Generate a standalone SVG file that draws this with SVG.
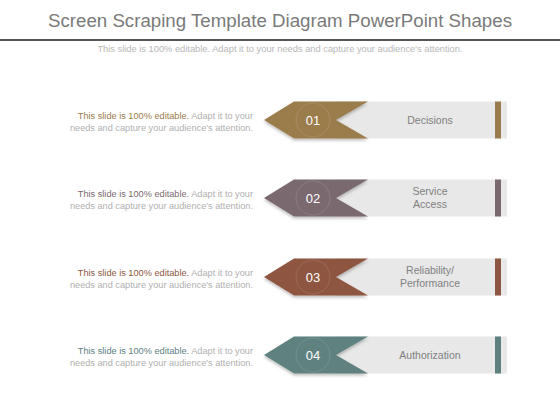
<svg xmlns="http://www.w3.org/2000/svg" width="560" height="420" viewBox="0 0 560 420">
<defs>
<style>
.title{font-family:"Liberation Sans",Arial,sans-serif;font-size:18.7px;fill:#7a7a7a;text-anchor:middle}
.sub{font-family:"Liberation Sans",Arial,sans-serif;font-size:9.3px;fill:#b8b8b8;text-anchor:middle}
.desc{font-family:"Liberation Sans",Arial,sans-serif;font-size:9.2px;fill:#b0b0b0;text-anchor:end}
.lbl{font-family:"Liberation Sans",Arial,sans-serif;font-size:10.5px;fill:#808080;text-anchor:middle}
.num{font-family:"Liberation Sans",Arial,sans-serif;font-size:13px;fill:#ffffff;text-anchor:middle}
.band{fill:#e8e8e8}
.ring{fill:none;stroke:#ffffff;stroke-opacity:0.12;stroke-width:1}
</style>
<filter id="sh" x="-10%" y="-20%" width="120%" height="150%">
<feDropShadow dx="0" dy="2" stdDeviation="1.5" flood-color="#000" flood-opacity="0.25"/>
</filter>
<path id="arrow" d="M264,0 L294,-18.5 L368,-18.5 L336,0 L368,18.5 L294,18.5 Z"/>
</defs>
<rect width="560" height="420" fill="#ffffff"/>
<text class="title" x="280" y="27">Screen Scraping Template Diagram PowerPoint Shapes</text>
<rect x="0" y="39" width="560" height="2" fill="#555555"/>
<text class="sub" x="280" y="52">This slide is 100% editable. Adapt it to your  needs and capture your  audience's attention.</text>

<g id="node1" transform="translate(0,120)">
<rect class="band" x="336" y="-18.5" width="171" height="37"/>
<rect x="495" y="-18.5" width="6" height="37" fill="#9b7b4c"/>
<use href="#arrow" fill="#9b7b4c" filter="url(#sh)"/>
<circle class="ring" cx="313" cy="0" r="17"/>
<text class="num" x="313" y="4.5">01</text>
<text class="lbl" x="430" y="3.5">Decisions</text>
<text class="desc" x="253" y="-1.5"><tspan fill="#9b7b4c">This slide is 100% editable.</tspan> Adapt it to your</text>
<text class="desc" x="253" y="10.5">needs and capture your audience's attention.</text>
</g>

<g id="node2" transform="translate(0,198)">
<rect class="band" x="336" y="-18.5" width="171" height="37"/>
<rect x="495" y="-18.5" width="6" height="37" fill="#7a6a70"/>
<use href="#arrow" fill="#7a6a70" filter="url(#sh)"/>
<circle class="ring" cx="313" cy="0" r="17"/>
<text class="num" x="313" y="4.5">02</text>
<text class="lbl" x="430" y="-3">Service</text>
<text class="lbl" x="430" y="10">Access</text>
<text class="desc" x="253" y="-1.5"><tspan fill="#7a6a70">This slide is 100% editable.</tspan> Adapt it to your</text>
<text class="desc" x="253" y="10.5">needs and capture your audience's attention.</text>
</g>

<g id="node3" transform="translate(0,277)">
<rect class="band" x="336" y="-18.5" width="171" height="37"/>
<rect x="495" y="-18.5" width="6" height="37" fill="#8e5641"/>
<use href="#arrow" fill="#8e5641" filter="url(#sh)"/>
<circle class="ring" cx="313" cy="0" r="17"/>
<text class="num" x="313" y="4.5">03</text>
<text class="lbl" x="430" y="-3">Reliability/</text>
<text class="lbl" x="430" y="10">Performance</text>
<text class="desc" x="253" y="-1.5"><tspan fill="#8e5641">This slide is 100% editable.</tspan> Adapt it to your</text>
<text class="desc" x="253" y="10.5">needs and capture your audience's attention.</text>
</g>

<g id="node4" transform="translate(0,355)">
<rect class="band" x="336" y="-18.5" width="171" height="37"/>
<rect x="495" y="-18.5" width="6" height="37" fill="#5e817f"/>
<use href="#arrow" fill="#5e817f" filter="url(#sh)"/>
<circle class="ring" cx="313" cy="0" r="17"/>
<text class="num" x="313" y="4.5">04</text>
<text class="lbl" x="430" y="3.5">Authorization</text>
<text class="desc" x="253" y="-1.5"><tspan fill="#5e817f">This slide is 100% editable.</tspan> Adapt it to your</text>
<text class="desc" x="253" y="10.5">needs and capture your audience's attention.</text>
</g>
<g id="connectors"></g>
</svg>
